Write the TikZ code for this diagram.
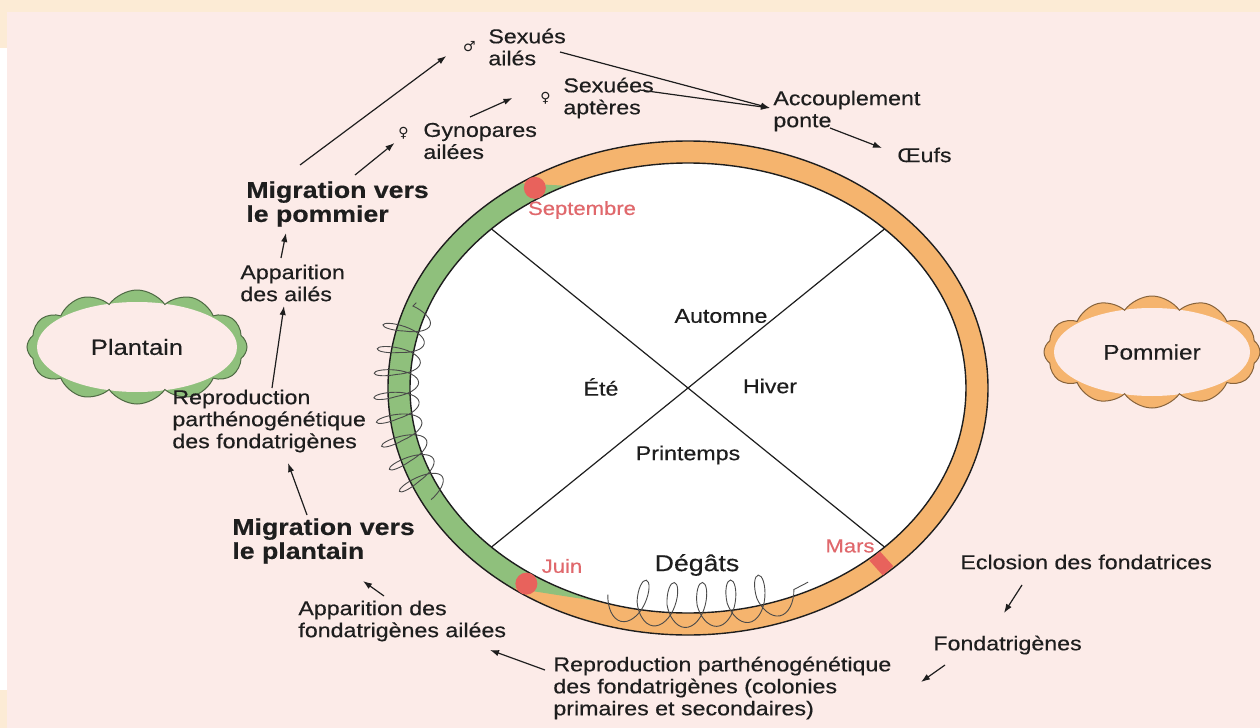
\documentclass[tikz,border=0pt]{standalone}
\usepackage{fontspec}
\setmainfont{Liberation Sans}[FakeStretch=1.16, FakeBold=0.4]
\newfontfamily\symfont{DejaVu Sans}
\usetikzlibrary{arrows.meta,positioning,calc,shapes.symbols,decorations.pathmorphing}
\definecolor{bgpink}{HTML}{FCEBE8}
\definecolor{creambar}{HTML}{FCEBD5}
\definecolor{ringorange}{HTML}{F5B46E}
\definecolor{ringgreen}{HTML}{8FC07C}
\definecolor{markred}{HTML}{E8625C}
\definecolor{monthred}{HTML}{E0686C}
\definecolor{inkgray}{HTML}{1E1E1E}
\definecolor{coilgray}{HTML}{4A4A4A}
\tikzset{
  lbl/.style={inner sep=0pt, anchor=west, align=left, text=inkgray,
              font=\fontsize{10}{11}\selectfont},
  lblb/.style={lbl, font=\fontsize{11.5}{12}\selectfont\bfseries},
  saison/.style={inner sep=0pt, text=inkgray, font=\fontsize{10}{11}\selectfont},
  mois/.style={inner sep=0pt, text=monthred, font=\fontsize{9.5}{11}\selectfont},
  sexe/.style={inner sep=0pt, text=inkgray, font=\symfont\fontsize{7}{7}\selectfont},
  nuage/.style={cloud, cloud puffs=12, cloud puff arc=110, aspect=2, draw=#1!55!black,
                fill=#1, line width=0.5pt, text=inkgray},
  arr/.style={-{Latex[length=4.5pt,width=3.2pt]}, line width=0.6pt, draw=inkgray},
  spire/.style={draw=coilgray, line width=0.45pt, decorate, decoration={coil, mirror, #1}},
}
\begin{document}
\begin{tikzpicture}[x=0.5pt, y=-0.5pt]
  % fond
  \useasboundingbox (0,0) rectangle (1260,728);
  \fill[creambar] (0,0) rectangle (1260,728);
  \fill[bgpink] (7,12) rectangle (1260,728);
  \fill[white] (0,48) rectangle (7,690);

  % anneau des saisons
  \coordinate (ctr) at (688,388);
  \fill[ringorange] (ctr) ellipse[x radius=300, y radius=247];
  \fill[white] (ctr) ellipse[x radius=278, y radius=225];
  \fill[ringgreen] ($(ctr)+(126:300 and 247)$) arc[start angle=126, end angle=236, x radius=300, y radius=247]
    -- ($(ctr)+(244:278 and 225)$) arc[start angle=244, end angle=108, x radius=278, y radius=225] -- cycle;
  \draw[inkgray, line width=0.7pt] (ctr) ellipse[x radius=300, y radius=247]
    (ctr) ellipse[x radius=278, y radius=225];
  \draw[inkgray, line width=0.6pt] ($(ctr)+(-135:278 and 225)$) -- ($(ctr)+(45:278 and 225)$);
  \draw[inkgray, line width=0.6pt] ($(ctr)+(-45:278 and 225)$) -- ($(ctr)+(135:278 and 225)$);
  \fill[markred] ($(ctr)+(-122:289 and 236)$) circle[radius=11];
  \fill[markred] ($(ctr)+(124:289 and 236)$) circle[radius=11];
  \draw[markred, line width=7pt] ($(ctr)+(48:279 and 226)$) -- ($(ctr)+(48:299 and 246)$);

  % colonies
  \draw[spire={amplitude=11pt, segment length=11pt, aspect=0.35}] ($(ctr)+(152:291 and 238)$)
    arc[start angle=152, end angle=201, x radius=291, y radius=238];
  \draw[spire={amplitude=11.5pt, segment length=15pt, aspect=0.5}] ($(ctr)+(107:274 and 216)$)
    arc[start angle=107, end angle=64, x radius=274, y radius=216];

  \node[saison] (automne) at (721,316) {Automne};
  \node[saison] (ete) at (601,387) {Été};
  \node[saison] (hiver) at (770,386) {Hiver};
  \node[saison] (printemps) at (688,455) {Printemps};
  \node[saison, font=\fontsize{11.5}{13}\selectfont] (degats) at (697,565) {Dégâts};
  \node[mois] (sept) at (582,210) {Septembre};
  \node[mois] (juin) at (562,566) {Juin};
  \node[mois] (mars) at (850,546) {Mars};

  % plantes hotes
  \node[nuage=ringgreen, minimum width=110pt, minimum height=57pt,
        font=\fontsize{11}{12}\selectfont,
        path picture={\fill[bgpink] (path picture bounding box.center) ellipse[x radius=100, y radius=45];}]
        (plantain) at (137,347) {Plantain};
  \node[nuage=ringorange, minimum width=108pt, minimum height=56pt,
        font=\fontsize{10.5}{12}\selectfont,
        path picture={\fill[bgpink] (path picture bounding box.center) ellipse[x radius=98, y radius=44];}]
        (pommier) at (1152,352) {Pommier};

  % etapes
  \node[lbl] (sexm) at (488,47) {Sexués\\ailés};
  \node[sexe, left=6pt of sexm] (msym) {♂};
  \node[lbl] (sexf) at (563,98) {Sexuées\\aptères};
  \node[sexe, left=6pt of sexf] (fsyma) {♀};
  \node[lbl] (gyno) at (423,141) {Gynopares\\ailées};
  \node[sexe, left=7pt of gyno, yshift=4pt] (fsymb) {♀};
  \node[lbl] (accoup) at (773,111) {Accouplement\\ponte};
  \node[lbl] (oeufs) at (897,155) {Œufs};
  \node[lblb] (migpom) at (246,204) {Migration vers\\le pommier};
  \node[lbl] (appail) at (240,283) {Apparition\\des ailés};
  \node[lbl] (reprofond) at (172,421) {Reproduction\\parthénogénétique\\des fondatrigènes};
  \node[lblb] (migplan) at (232,541) {Migration vers\\le plantain};
  \node[lbl] (appfond) at (298,621) {Apparition des\\fondatrigènes ailées};
  \node[lbl] (reprocol) at (553,688) {Reproduction parthénogénétique\\des fondatrigènes (colonies\\primaires et secondaires)};
  \node[lbl] (eclos) at (960,562) {Eclosion des fondatrices};
  \node[lbl] (fondat) at (933,645) {Fondatrigènes};

  \draw[arr] ($(migpom.west)+(54,-39)$) -- ($(msym.center)+(-23,9)$);
  \draw[arr] ($(migpom.west)+(109,-29)$) -- ($(fsymb.center)+(-9,10)$);
  \draw[arr] ($(gyno.west)+(47,-24)$) -- ($(fsyma.center)+(-33,0)$);
  \draw[arr] ($(sexm.west)+(72,5)$) -- ($(accoup.west)+(-3,-3)$);
  \draw[arr] ($(sexf.west)+(77,-8)$) -- ($(accoup.west)+(-3,-3)$);
  \draw[arr] ($(accoup.west)+(57,17)$) -- ($(oeufs.west)+(-15,-7)$);
  \draw[arr] ($(reprofond.west)+(100,-33)$) -- ($(appail.west)+(44,23)$);
  \draw[arr] ($(appail.west)+(41,-25)$) -- ($(migpom.west)+(40,29)$);
  \draw[arr] ($(migplan.west)+(75,-26)$) -- ($(reprofond.west)+(116,42)$);
  \draw[arr] ($(appfond.west)+(86,-25)$) -- ($(migplan.west)+(131,40)$);
  \draw[arr] ($(reprocol.west)+(-8,-18)$) -- ($(appfond.west)+(192,29)$);
  \draw[arr] ($(eclos.west)+(62,23)$) -- ($(fondat.west)+(71,-32)$);
  \draw[arr] ($(fondat.west)+(12,20)$) -- ($(reprocol.west)+(368,-6)$);
\end{tikzpicture}
\end{document}
